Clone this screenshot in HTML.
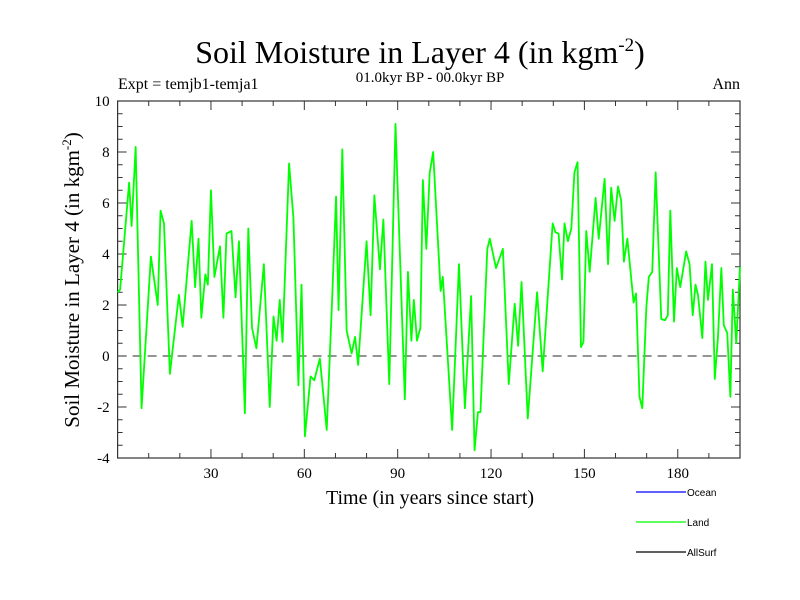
<!DOCTYPE html>
<html><head><meta charset="utf-8"><style>
body{margin:0;background:#fff}
svg{display:block;font-family:"Liberation Serif",serif}
</style></head><body>
<svg id="chart" width="800" height="600">
<text x="420" y="63" font-size="32" text-anchor="middle">Soil Moisture in Layer 4 (in kgm<tspan font-size="19" dy="-12">-2</tspan><tspan dy="12">)</tspan></text>
<text x="430" y="82" font-size="15" text-anchor="middle">01.0kyr BP - 00.0kyr BP</text>
<text x="118" y="89" font-size="16">Expt = temjb1-temja1</text>
<text x="740" y="89" font-size="16" text-anchor="end">Ann</text>
<text x="430" y="504" font-size="20" text-anchor="middle">Time (in years since start)</text>
<text transform="translate(79,280) rotate(-90)" font-size="21" text-anchor="middle">Soil Moisture in Layer 4 (in kgm<tspan font-size="13" dy="-8">-2</tspan><tspan dy="8">)</tspan></text>
<g id="axes"></g>
<g id="plot"></g>
<g id="legend" font-family="Liberation Sans, sans-serif" font-size="10"></g>
</svg>
<script>
const years=[0,0.8,3.7,4.5,5.8,7.7,10.7,12.9,13.8,14.9,16.8,19.7,20.9,23.8,24.9,26,26.9,28.2,29,30,31.1,32.9,34,35,36.6,37.9,39,40.9,42,43.2,44.6,47,48.9,50.1,51.1,52.1,53,55.1,56.5,58.1,59.1,60.2,62,63.2,65,67.2,68.8,70.2,71,72.2,73.6,75.2,76.3,77.3,80,81.3,82.5,84.3,85.4,87.3,89.3,92.3,93.3,94.4,95.2,96.2,97.3,98.1,99.2,100.3,101.4,103.8,104.5,107.5,109.7,111.6,113.6,114.7,115.8,116.6,118.8,119.6,121.6,123.8,125.7,127.6,128.7,129.8,131.8,134.8,136.6,139.8,140.7,141.7,142.8,143.6,144.7,145.8,146.8,147.8,148.9,149.7,150.6,151.7,153.6,154.6,156.5,157.6,158.6,159.7,160.8,161.8,162.7,163.8,165.8,166.6,167.7,168.6,169.9,170.7,171.8,172.9,174.7,175.9,176.8,177.6,178.8,179.7,180.8,182.7,183.8,184.8,185.7,186.5,187.9,188.9,189.7,191,191.9,192.9,194,194.8,195.9,196.9,197.7,198.8,200];
const landValues=[2.5,2.6,6.8,5.1,8.2,-2.05,3.9,2.0,5.7,5.2,-0.7,2.4,1.15,5.3,2.7,4.6,1.5,3.2,2.8,6.5,3.1,4.3,1.5,4.8,4.9,2.3,4.5,-2.25,5.0,1.1,0.3,3.6,-2.0,1.55,0.6,2.2,0.55,7.55,5.4,-1.15,2.8,-3.15,-0.8,-0.95,-0.1,-2.9,1.8,6.25,1.8,8.1,1.0,0.1,0.75,-0.35,4.5,1.6,6.3,3.4,5.35,-1.1,9.1,-1.7,3.3,0.6,2.2,0.6,1.1,6.9,4.2,7.2,8.0,2.55,3.1,-2.9,3.6,-2.05,2.35,-3.7,-2.2,-2.2,4.2,4.6,3.45,4.2,-1.1,2.05,0.4,2.9,-2.45,2.5,-0.6,5.2,4.85,4.8,3.0,5.2,4.5,5.0,7.2,7.6,0.35,0.55,4.9,3.3,6.2,4.6,6.95,3.6,6.6,5.3,6.65,6.1,3.7,4.6,2.1,2.45,-1.6,-2.05,1.9,3.1,3.3,7.2,1.45,1.4,1.6,5.7,1.35,3.45,2.7,4.1,3.6,1.6,2.8,2.4,0.7,3.7,2.2,3.6,-0.9,0.7,3.45,1.2,0.9,-1.6,2.6,0.5,3.5];
const yTickLabels=[-4,-2,0,2,4,6,8,10];
const xTickLabels=[30,60,90,120,150,180];
const legendNames=["Ocean","Land","AllSurf"];
const legendColors=["#0000ff","#00ff00","#000000"];

const X0=117.6,X1=740,Y0=458,Y1=101,xMin=0,xMax=200,yMin=-4,yMax=10;
const xs=v=>X0+(v-xMin)/(xMax-xMin)*(X1-X0);
const ys=v=>Y0-(v-yMin)/(yMax-yMin)*(Y0-Y1);
const NS="http://www.w3.org/2000/svg";
function mk(tag,attrs,parent){const e=document.createElementNS(NS,tag);for(const k in attrs)e.setAttribute(k,attrs[k]);parent.appendChild(e);return e;}
const axes=document.getElementById('axes'),plot=document.getElementById('plot'),legend=document.getElementById('legend');

let frame=mk('rect',{x:X0,y:Y1,width:X1-X0,height:Y0-Y1,fill:'none',stroke:'#333','stroke-width':1.2},axes);



for(let v=yMin;v<=yMax+1e-9;v+=0.5){
  const major=Math.abs(v%2)<1e-9,len=major?9:5,y=ys(v);
  let t=mk('line',{x1:X0,x2:X0+len,y1:y,y2:y,stroke:'#333'},axes);
  
  
  let t2=mk('line',{x1:X1,x2:X1-len,y1:y,y2:y,stroke:'#333'},axes);
  
  
}
yTickLabels.forEach(v=>{
  let t=mk('text',{x:X0-8,y:ys(v)+5,'font-size':15,'text-anchor':'end'},axes);t.textContent=v;
  
  
});
for(let v=10;v<xMax;v+=10){
  const major=v%30===0,len=major?9:5,x=xs(v);
  let t=mk('line',{x1:x,x2:x,y1:Y0,y2:Y0-len,stroke:'#333'},axes);
  
  
  let t2=mk('line',{x1:x,x2:x,y1:Y1,y2:Y1+len,stroke:'#333'},axes);
  
  
}
xTickLabels.forEach(v=>{
  let t=mk('text',{x:xs(v),y:Y0+20,'font-size':15,'text-anchor':'middle'},axes);t.textContent=v;
  
  
});
let zero=mk('line',{x1:X0,x2:X1,y1:ys(0),y2:ys(0),stroke:'#555','stroke-width':1.3,'stroke-dasharray':'9,6'},plot);


let pl=mk('polyline',{points:years.map((yr,i)=>xs(yr)+','+ys(landValues[i])).join(' '),fill:'none',stroke:'#00ff00','stroke-width':1.8,'stroke-linejoin':'round'},plot);



legendNames.forEach((n,i)=>{
  const y=492+i*30;
  let l=mk('line',{x1:636,x2:686,y1:y,y2:y,stroke:legendColors[i],'stroke-width':1.3},legend);
  
  
  let t=mk('text',{x:687,y:y+4},legend);t.textContent=n;
  
  
});
</script>
</body></html>
